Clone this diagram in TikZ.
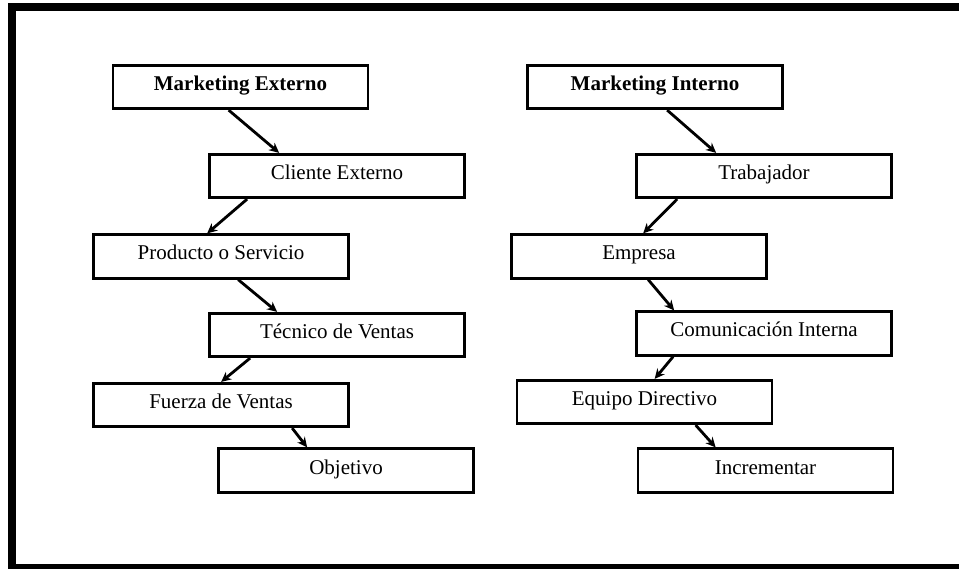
\documentclass[tikz,border=0pt]{standalone}
\usepackage{fontspec}
\setmainfont{Liberation Serif}
\usetikzlibrary{arrows.meta}
\begin{document}
\begin{tikzpicture}[x=1pt,y=-1pt,
  box/.style={draw, line width=2.7pt, rectangle, minimum width=255pt,
    minimum height=43.5pt, inner sep=0pt, text height=15pt, text depth=8pt,
    font=\fontsize{21}{25}\selectfont},
  arr/.style={line width=2.8pt, -{Stealth[length=10pt,width=9.5pt]}}]
\useasboundingbox (0,0) rectangle (959,569);
\clip (0,0) rectangle (959,569);
% outer frame
\draw[line width=8pt] (12,7) rectangle (968,568);

% left chain
\node[box] (me) at (240.5,87)  {\textbf{Marketing Externo}};
\node[box] (ce) at (337,176)   {Cliente Externo};
\node[box] (ps) at (221,256.5) {Producto o Servicio};
\node[box] (tv) at (337,335)   {Técnico de Ventas};
\node[box] (fv) at (221,405)   {Fuerza de Ventas};
\node[box] (ob) at (346,470.5) {Objetivo};

% right chain
\node[box] (mi) at (655,87)    {\textbf{Marketing Interno}};
\node[box] (tr) at (764,176)   {Trabajador};
\node[box] (em) at (639,256.5) {Empresa};
\node[box] (ci) at (764,333.5) {Comunicación Interna};
\node[box] (ed) at (644.5,402) {Equipo Directivo};
\node[box] (in) at (765.5,470.5) {Incrementar};

% connectors
\draw[arr] ([xshift=117pt]me.south west) -- ([xshift=71pt]ce.north west);
\draw[arr] ([xshift=39pt]ce.south west)  -- ([xshift=115pt]ps.north west);
\draw[arr] ([xshift=146pt]ps.south west) -- ([xshift=69pt]tv.north west);
\draw[arr] ([xshift=42pt]tv.south west)  -- ([xshift=129pt]fv.north west);
\draw[arr] ([xshift=200pt]fv.south west) -- ([xshift=90pt]ob.north west);

\draw[arr] ([xshift=141pt]mi.south west) -- ([xshift=81pt]tr.north west);
\draw[arr] ([xshift=42pt]tr.south west)  -- ([xshift=133pt]em.north west);
\draw[arr] ([xshift=138pt]em.south west) -- ([xshift=39pt]ci.north west);
\draw[arr] ([xshift=38pt]ci.south west)  -- ([xshift=139pt]ed.north west);
\draw[arr] ([xshift=180pt]ed.south west) -- ([xshift=79pt]in.north west);
\end{tikzpicture}
\end{document}
